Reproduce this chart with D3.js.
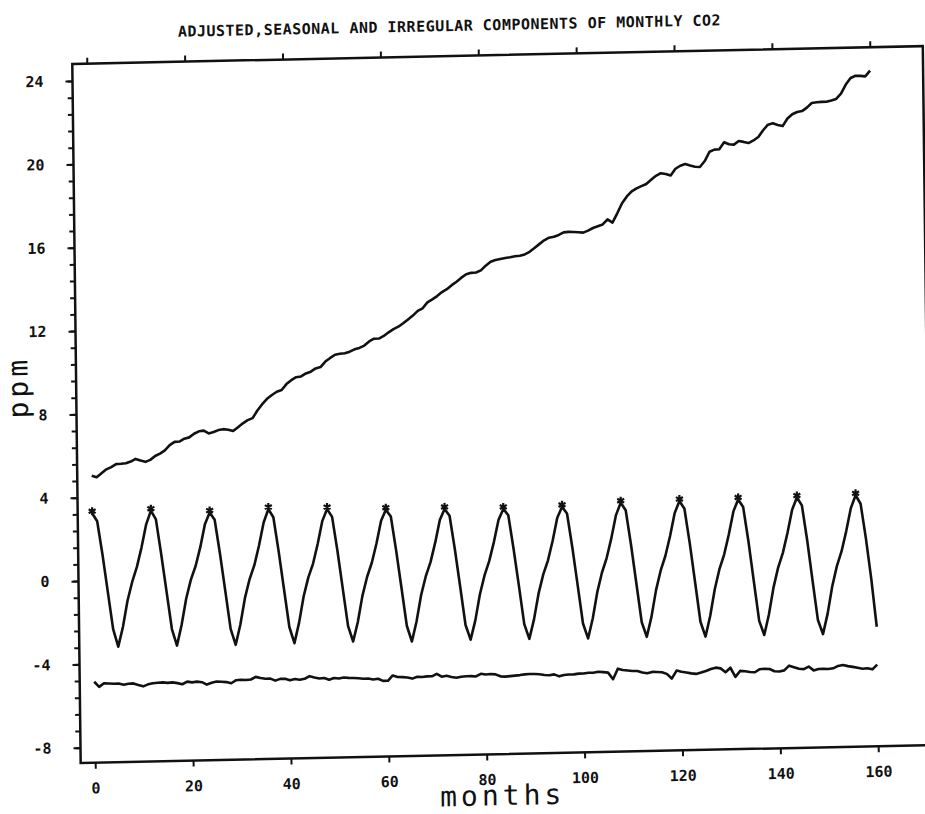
<!DOCTYPE html>
<html>
<head>
<meta charset="utf-8">
<script src="https://cdn.jsdelivr.net/npm/d3@7"></script>
<style>
html, body { margin: 0; padding: 0; background: #fff; }
svg { display: block; }
.tick text { font-family: "DejaVu Sans Mono", monospace; font-weight: bold; font-size: 15px; fill: #111; }
.tick line { stroke: #111; stroke-width: 2; }
</style>
</head>
<body>
<div class="plot"></div>
<script>
// monthly CO2 split into adjusted (trend), seasonal and irregular parts, ppm
var months = d3.range(0, 161);

var adjusted = [
  5.04, 4.96, 5.15, 5.33, 5.43, 5.57, 5.58, 5.60, 5.68, 5.80,
  5.72, 5.65, 5.74, 5.92, 6.03, 6.18, 6.43, 6.58, 6.59, 6.72,
  6.78, 6.95, 7.06, 7.09, 6.95, 7.01, 7.10, 7.14, 7.11, 7.04,
  7.22, 7.40, 7.55, 7.64, 8.00, 8.30, 8.55, 8.73, 8.88, 8.96,
  9.24, 9.42, 9.56, 9.59, 9.73, 9.81, 9.96, 10.02, 10.28, 10.45,
  10.60, 10.64, 10.66, 10.73, 10.84, 10.90, 11.01, 11.20, 11.33, 11.33,
  11.45, 11.62, 11.77, 11.88, 12.04, 12.22, 12.40, 12.62, 12.74, 13.02,
  13.16, 13.31, 13.50, 13.63, 13.82, 13.98, 14.17, 14.33, 14.39, 14.40,
  14.50, 14.72, 14.90, 14.98, 15.03, 15.07, 15.10, 15.14, 15.16, 15.22,
  15.34, 15.52, 15.70, 15.88, 16.00, 16.04, 16.12, 16.24, 16.26, 16.25,
  16.23, 16.21, 16.30, 16.42, 16.50, 16.58, 16.82, 16.66, 17.10, 17.58,
  17.90, 18.14, 18.28, 18.38, 18.48, 18.68, 18.86, 18.98, 18.94, 18.86,
  19.18, 19.32, 19.40, 19.32, 19.26, 19.24, 19.52, 19.96, 20.06, 20.07,
  20.40, 20.30, 20.28, 20.45, 20.40, 20.34, 20.46, 20.62, 20.94, 21.20,
  21.26, 21.18, 21.12, 21.48, 21.68, 21.78, 21.82, 21.98, 22.20, 22.23,
  22.24, 22.24, 22.30, 22.37, 22.62, 23.05, 23.36, 23.46, 23.45, 23.42,
  23.69
];

var seasonal = [
  3.24, 2.85, 1.25, -0.55, -2.35, -3.19, -2.25, -1.00, -0.10, 0.62, 1.55, 2.65,
  3.30, 2.88, 1.20, -0.60, -2.40, -3.20, -2.20, -0.95, -0.05, 0.60, 1.50, 2.60,
  3.15, 2.80, 1.18, -0.62, -2.45, -3.22, -2.25, -0.98, -0.08, 0.58, 1.52, 2.62,
  3.26, 2.86, 1.22, -0.60, -2.42, -3.20, -2.22, -0.96, -0.06, 0.60, 1.55, 2.64,
  3.20, 2.82, 1.20, -0.62, -2.44, -3.18, -2.25, -1.00, -0.10, 0.58, 1.50, 2.58,
  3.11, 2.78, 1.15, -0.65, -2.48, -3.24, -2.28, -1.02, -0.12, 0.55, 1.48, 2.56,
  3.09, 2.76, 1.14, -0.66, -2.50, -3.21, -2.30, -1.05, -0.14, 0.55, 1.46, 2.52,
  3.03, 2.72, 1.10, -0.68, -2.52, -3.23, -2.30, -1.06, -0.15, 0.52, 1.45, 2.55,
  3.07, 2.75, 1.12, -0.70, -2.55, -3.27, -2.32, -1.05, -0.12, 0.58, 1.52, 2.62,
  3.21, 2.84, 1.18, -0.68, -2.55, -3.25, -2.30, -1.02, -0.08, 0.62, 1.56, 2.66,
  3.23, 2.86, 1.20, -0.68, -2.58, -3.30, -2.32, -1.04, -0.08, 0.62, 1.58, 2.68,
  3.25, 2.88, 1.22, -0.70, -2.60, -3.28, -2.30, -1.02, -0.06, 0.64, 1.60, 2.70,
  3.28, 2.90, 1.22, -0.72, -2.62, -3.30, -2.32, -1.02, -0.05, 0.66, 1.62, 2.72,
  3.33, 2.92, 1.25, -0.70, -3.00
];

// irregular part is plotted shifted down to sit around -5
var irregular = [
  -4.85, -5.10, -4.93, -4.95, -4.97, -4.96, -5.02, -4.98, -4.97, -5.05,
  -5.12, -5.03, -4.98, -4.96, -4.95, -4.98, -4.96, -5.00, -5.06, -4.94,
  -4.98, -4.95, -4.98, -5.10, -5.02, -4.96, -4.98, -5.00, -5.06, -4.92,
  -4.90, -4.92, -4.90, -4.78, -4.84, -4.88, -4.88, -4.98, -4.90, -4.90,
  -4.98, -4.92, -4.96, -4.92, -4.80, -4.87, -4.92, -4.90, -4.99, -4.91,
  -4.94, -4.90, -4.92, -4.93, -4.95, -4.98, -4.97, -5.02, -4.99, -5.10,
  -5.10, -4.85, -4.93, -4.94, -4.96, -5.02, -4.94, -4.95, -4.93, -4.93,
  -4.82, -4.96, -4.92, -4.98, -5.02, -4.98, -4.96, -4.96, -4.98, -4.86,
  -4.90, -4.88, -4.90, -5.00, -5.02, -5.00, -4.98, -4.96, -4.93, -4.92,
  -4.92, -4.94, -4.98, -5.00, -4.96, -5.06, -5.00, -4.98, -4.98, -4.95,
  -4.95, -4.92, -4.92, -4.88, -4.90, -4.93, -5.25, -4.75, -4.82, -4.85,
  -4.88, -4.88, -4.96, -5.00, -4.94, -4.95, -4.97, -5.05, -5.28, -4.90,
  -4.96, -5.00, -5.05, -5.08, -5.02, -4.95, -4.86, -4.80, -4.84, -5.03,
  -4.82, -5.26, -4.98, -5.00, -5.04, -5.06, -4.92, -4.90, -4.92, -5.03,
  -5.05, -5.00, -4.78, -4.86, -4.94, -4.96, -4.84, -5.03, -4.97, -4.97,
  -4.98, -4.95, -4.84, -4.80, -4.86, -4.90, -4.95, -5.00, -4.98, -5.04,
  -4.82
];

var peakMonths = [0, 12, 24, 36, 48, 60, 72, 84, 96, 108, 120, 132, 144, 156];
var xTicks = [0, 20, 40, 60, 80, 100, 120, 140, 160];
var yTicks = [-8, -4, 0, 4, 8, 12, 16, 20, 24];

var width = 925, height = 814;
var plotLeft = 78.5, plotRight = 929, plotTop = 64, plotBottom = 763;

var svg = d3.select(".plot").append("svg")
  .attr("width", width)
  .attr("height", height);

svg.append("rect").attr("width", width).attr("height", height).attr("fill", "#fff");

// the scanned plot is a little skewed: horizontals climb to the right
var g = svg.append("g")
  .attr("transform", "matrix(1,-0.021,0.012,1," + (-0.012 * 581) + "," + (0.021 * 77) + ")");

var x = d3.scaleLinear().domain([0, 160]).range([93, 876]);
var y = d3.scaleLinear().domain([-8, 24]).range([747.7, 81]);

g.append("rect")
  .attr("x", plotLeft).attr("y", plotTop)
  .attr("width", plotRight - plotLeft).attr("height", plotBottom - plotTop)
  .attr("fill", "none").attr("stroke", "#111").attr("stroke-width", 2.5);

// minor ticks on y every 0.8
g.append("g")
  .attr("transform", "translate(" + plotLeft + ",0)")
  .call(d3.axisLeft(y).tickValues(d3.range(-8, 24.01, 0.8)).tickSize(5).tickFormat(""))
  .call(function(a) { a.select(".domain").remove(); });

g.append("g")
  .attr("transform", "translate(" + plotLeft + ",0)")
  .call(d3.axisLeft(y).tickValues(yTicks).tickSize(7).tickPadding(22).tickFormat(String))
  .call(function(a) { a.select(".domain").remove(); });

g.append("g")
  .attr("transform", "translate(0," + plotTop + ")")
  .call(d3.axisTop(x).tickValues(xTicks).tickSize(6).tickFormat(""))
  .call(function(a) { a.select(".domain").remove(); });

g.append("g")
  .attr("transform", "translate(0," + plotBottom + ")")
  .call(d3.axisBottom(x).tickValues(xTicks).tickSize(6).tickPadding(14).tickFormat(String))
  .call(function(a) { a.select(".domain").remove(); });

var line = d3.line()
  .x(function(d, i) { return x(months[i]); })
  .y(function(d) { return y(d); });

[adjusted, seasonal, irregular].forEach(function(s) {
  g.append("path")
    .attr("d", line(s))
    .attr("fill", "none")
    .attr("stroke", "#111")
    .attr("stroke-width", 2.6)
    .attr("stroke-linejoin", "round");
});

g.selectAll(".peak")
  .data(peakMonths)
  .enter().append("path")
  .attr("class", "peak")
  .attr("transform", function(m) { return "translate(" + x(m) + "," + (y(seasonal[m]) - 2) + ")"; })
  .attr("d", d3.symbol(d3.symbolAsterisk, 45))
  .attr("fill", "none")
  .attr("stroke", "#111")
  .attr("stroke-width", 2.2);

g.append("text")
  .attr("x", 456)
  .attr("y", 39)
  .attr("text-anchor", "middle")
  .style("font-family", "DejaVu Sans Mono, monospace")
  .style("font-weight", "bold")
  .style("font-size", "15px")
  .style("letter-spacing", "0.5px")
  .attr("fill", "#111")
  .text("ADJUSTED,SEASONAL AND IRREGULAR COMPONENTS OF MONTHLY CO2");

g.append("text")
  .attr("transform", "translate(30,386) rotate(-90)")
  .attr("text-anchor", "middle")
  .style("font-family", "DejaVu Sans Mono, monospace")
  .style("font-size", "28px")
  .style("letter-spacing", "4px")
  .attr("fill", "#111")
  .text("ppm");

g.append("text")
  .attr("x", 500)
  .attr("y", 814)
  .attr("text-anchor", "middle")
  .style("font-family", "DejaVu Sans Mono, monospace")
  .style("font-size", "28px")
  .style("letter-spacing", "4px")
  .attr("fill", "#111")
  .text("months");
</script>
</body>
</html>
